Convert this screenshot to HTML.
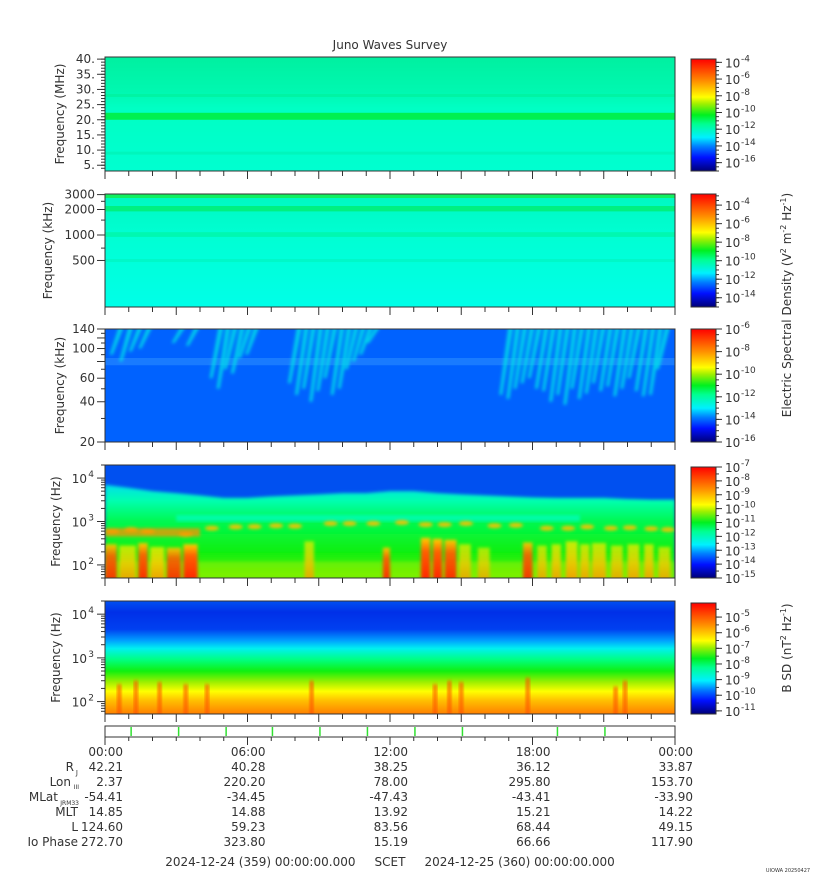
<!DOCTYPE html>
<html><head><meta charset="utf-8"><style>
html,body{margin:0;padding:0;background:#fff;}
svg{display:block;font-family:"DejaVu Sans","Liberation Sans",sans-serif;}
text{fill:#333;}
</style></head><body>
<svg id="chart" width="815" height="880" viewBox="0 0 815 880" xmlns="http://www.w3.org/2000/svg">
<defs>
<filter id="soft" x="-20%" y="-20%" width="140%" height="140%"><feGaussianBlur stdDeviation="1.6"/></filter>
<clipPath id="clip3"><rect x="105" y="329" width="570" height="113"/></clipPath>
<clipPath id="clip4"><rect x="105" y="465" width="570" height="113"/></clipPath>
<clipPath id="clip5"><rect x="105" y="601" width="570" height="113"/></clipPath>
<linearGradient id="cmap" x1="0" y1="1" x2="0" y2="0">
<stop offset="0" stop-color="#000078"/><stop offset="0.12" stop-color="#0010ff"/><stop offset="0.22" stop-color="#0080ff"/>
<stop offset="0.3" stop-color="#00f0ff"/><stop offset="0.42" stop-color="#00ff90"/><stop offset="0.5" stop-color="#00f020"/>
<stop offset="0.6" stop-color="#a0f000"/><stop offset="0.66" stop-color="#ffff00"/><stop offset="0.8" stop-color="#ff9000"/>
<stop offset="1" stop-color="#ff0000"/></linearGradient>
<linearGradient id="p1g" gradientUnits="userSpaceOnUse" x1="0" y1="57" x2="0" y2="171">
<stop offset="0" stop-color="#00f0a0"/><stop offset="0.3" stop-color="#00f8b0"/><stop offset="0.45" stop-color="#00ffc4"/><stop offset="1" stop-color="#00ffd0"/></linearGradient>
<linearGradient id="p2g" gradientUnits="userSpaceOnUse" x1="0" y1="194" x2="0" y2="307">
<stop offset="0" stop-color="#00f8c0"/><stop offset="0.4" stop-color="#00ffd4"/><stop offset="1" stop-color="#00ffe8"/></linearGradient>
<linearGradient id="p4g" gradientUnits="userSpaceOnUse" x1="0" y1="475" x2="0" y2="578">
<stop offset="0" stop-color="#00b0ff"/><stop offset="0.1" stop-color="#00e0e8"/><stop offset="0.25" stop-color="#00ffb0"/><stop offset="0.45" stop-color="#00f850"/><stop offset="0.75" stop-color="#10f010"/><stop offset="1" stop-color="#60f000"/></linearGradient>
<linearGradient id="p5g" gradientUnits="userSpaceOnUse" x1="0" y1="601" x2="0" y2="714">
<stop offset="0" stop-color="#0050f0"/><stop offset="0.1" stop-color="#0030e8"/><stop offset="0.25" stop-color="#0040f0"/><stop offset="0.35" stop-color="#00a0ff"/><stop offset="0.42" stop-color="#00f0f0"/><stop offset="0.52" stop-color="#00ff80"/><stop offset="0.62" stop-color="#10f010"/><stop offset="0.72" stop-color="#a0f000"/><stop offset="0.8" stop-color="#ffff00"/><stop offset="0.88" stop-color="#ffc000"/><stop offset="1" stop-color="#ff8000"/></linearGradient>
<linearGradient id="burst" x1="0" y1="0" x2="0" y2="1">
<stop offset="0" stop-color="#ffd000"/><stop offset="0.3" stop-color="#ff6000"/><stop offset="1" stop-color="#ff2000"/></linearGradient>
<linearGradient id="burstY" x1="0" y1="0" x2="0" y2="1">
<stop offset="0" stop-color="#e0f000"/><stop offset="0.4" stop-color="#ffd000"/><stop offset="1" stop-color="#ff9000"/></linearGradient>
</defs>
<text x="390" y="49" font-size="12" text-anchor="middle">Juno Waves Survey</text>
<g id="panels"></g>
<g id="bottom"></g>
<text transform="translate(791,305) rotate(-90)" font-size="12" text-anchor="middle">Electric Spectral Density (V<tspan font-size="8" dy="-5">2</tspan><tspan dy="5"> m</tspan><tspan font-size="8" dy="-5">-2</tspan><tspan dy="5"> Hz</tspan><tspan font-size="8" dy="-5">-1</tspan><tspan dy="5">)</tspan></text>
<text transform="translate(791,648) rotate(-90)" font-size="12" text-anchor="middle">B SD (nT<tspan font-size="8" dy="-5">2</tspan><tspan dy="5"> Hz</tspan><tspan font-size="8" dy="-5">-1</tspan><tspan dy="5">)</tspan></text>
<text x="788" y="872" font-size="5" text-anchor="middle">UIOWA 20250427</text>
</svg>
<script>
// ---- data ----
const timeTickHours = [0,6,12,18,24];
const timeTickLabels = ["00:00","06:00","12:00","18:00","00:00"];
const ephemRows = ["R_J","Lon_III","MLat_JRM33","MLT","L","Io Phase"];
const rjValues = ["42.21","40.28","38.25","36.12","33.87"];
const lonValues = ["2.37","220.20","78.00","295.80","153.70"];
const mlatValues = ["-54.41","-34.45","-47.43","-43.41","-33.90"];
const mltValues = ["14.85","14.88","13.92","15.21","14.22"];
const lValues = ["124.60","59.23","83.56","68.44","49.15"];
const ioValues = ["272.70","323.80","15.19","66.66","117.90"];
const markerHours = [1.1,3.1,5.1,7.05,9.05,11.05,13.05,15.05,19.05,21.05];
// panel 3 bursts (hour, lowest freq kHz)
const p3BurstT = [0.2,0.6,1.0,1.4,2.8,3.4,4.4,4.7,5.0,5.3,5.6,5.9,7.7,8.0,8.3,8.6,8.9,9.2,9.5,9.8,10.1,10.4,10.7,11.0,16.6,16.9,17.2,17.5,17.8,18.1,18.4,18.7,19.0,19.3,19.6,19.9,20.2,20.5,20.8,21.1,21.4,21.7,22.0,22.3,22.6,22.9,23.2];
const p3BurstLow = [90,80,95,100,110,105,60,50,70,65,85,90,55,45,50,40,48,60,45,50,70,80,90,110,45,42,50,55,60,50,48,40,45,38,50,42,46,55,48,52,44,50,60,48,44,45,70];
// panel 4 blue/green boundary (Hz) per hour 0..24
const p4Edge = [7000,6000,5000,4500,4000,3500,3500,3800,4000,4200,4500,4500,5000,5000,4500,4200,4000,3800,3600,3500,3500,3500,3300,3200,3200];
// panel 4 low-frequency bursts (start hour, end hour, top Hz, strength 0..1)
const p4BurstStart = [0.0,0.6,1.4,1.9,2.6,3.3,8.4,11.7,13.3,13.8,14.3,14.9,15.7,17.6,18.2,18.8,19.4,20.0,20.5,21.3,22.0,22.7,23.3];
const p4BurstEnd =   [0.5,1.3,1.8,2.5,3.2,3.9,8.8,12.0,13.7,14.2,14.8,15.4,16.2,18.0,18.6,19.2,19.9,20.4,21.1,21.8,22.5,23.1,23.8];
const p4BurstTop =   [300,280,320,260,250,300,350,250,420,400,380,300,250,330,280,300,350,300,320,280,300,300,260];
const p4BurstStr =   [0.8,0.6,0.9,0.7,0.8,1.0,0.5,0.9,1.0,1.0,0.9,0.5,0.4,0.8,0.5,0.6,0.7,0.6,0.6,0.5,0.6,0.6,0.5];
// panel 4 narrowband emission blobs (hour, Hz)
const p4BandT = [0.3,1.1,1.8,3.4,4.5,5.5,6.3,7.2,8.0,9.5,10.3,11.3,12.5,13.5,14.3,15.2,16.4,17.3,18.6,19.5,20.3,21.3,22.1,23.0,23.7];
const p4BandF = [600,650,600,500,700,750,760,800,780,900,900,900,950,850,850,900,800,820,700,700,750,700,720,680,650];
// panel 5 bursts (hour, top Hz)
const p5BurstT = [0.6,1.3,2.3,3.4,4.3,8.7,13.9,14.5,15.0,17.8,21.5,21.9];
const p5BurstTop = [250,300,280,250,250,300,250,300,280,350,220,300];

// ---- scales ----
const X0=105, X1=675;
const xT = h => X0 + (X1-X0)*h/24;
const logY = (top,bot,fTop,fBot) => f => top + (bot-top)*(Math.log10(fTop)-Math.log10(f))/(Math.log10(fTop)-Math.log10(fBot));
const panels = [
 {top:57,bot:171},{top:194,bot:307},{top:329,bot:442},{top:465,bot:578},{top:601,bot:714}
];
const y1 = f => 171 - (f-3.1)*(114/(40.7-3.1));
const y2 = logY(194,307,3050,141);
const y3 = logY(329,442,140,20);
const y4 = logY(465,578,20000,50);
const y5 = logY(601,714,20000,52);

const NS="http://www.w3.org/2000/svg";
const G=document.getElementById('panels');
function el(tag,attrs,parent){const e=document.createElementNS(NS,tag);for(const k in attrs)e.setAttribute(k,attrs[k]);(parent||G).appendChild(e);return e;}
function txt(x,y,s,size,anchor,parent){const t=el('text',{x:x,y:y,'font-size':size||12,'text-anchor':anchor||'end'},parent);t.textContent=s;return t;}

const pgrp=[];
panels.forEach((p,i)=>{
  const g=el('g',{});
  
  
  pgrp.push(g);
});
el('rect',{x:X0,y:57,width:570,height:114,fill:'url(#p1g)'},pgrp[0]);
el('rect',{x:X0,y:y1(22.3),width:570,height:y1(20)-y1(22.3),fill:'#00f050'},pgrp[0]);
el('rect',{x:X0,y:y1(28.5),width:570,height:3,fill:'#00f098',opacity:0.6},pgrp[0]);
el('rect',{x:X0,y:y1(9.5),width:570,height:3,fill:'#00f0b0',opacity:0.6},pgrp[0]);
el('rect',{x:X0,y:194,width:570,height:113,fill:'url(#p2g)'},pgrp[1]);
el('rect',{x:X0,y:194,width:570,height:4,fill:'#10f060'},pgrp[1]);
el('rect',{x:X0,y:y2(2200),width:570,height:y2(1900)-y2(2200),fill:'#00f080'},pgrp[1]);
el('rect',{x:X0,y:y2(1080),width:570,height:y2(950)-y2(1080),fill:'#00f8b0'},pgrp[1]);
el('rect',{x:X0,y:y2(520),width:570,height:3,fill:'#00f8c8'},pgrp[1]);
// panel 3
el('rect',{x:X0,y:329,width:570,height:113,fill:'#0062ff'},pgrp[2]);
el('rect',{x:X0,y:y3(85),width:570,height:y3(75)-y3(85),fill:'#2a8cff',opacity:0.6},pgrp[2]);
const g3=el('g',{'clip-path':'url(#clip3)'},pgrp[2]);
const g3b=el('g',{filter:'url(#soft)'},g3);
p3BurstT.forEach((h,i)=>{
  const x=xT(h), yl=y3(p3BurstLow[i]);
  const p=el('polygon',{points:`${x+9},327 ${x+14},327 ${x+3},${yl} ${x},${yl}`,fill:'#00e8e8',opacity:0.8},g3b);
  
  
});
// panel 4
el('rect',{x:X0,y:465,width:570,height:113,fill:'#0050f0'},pgrp[3]);
const g4=el('g',{'clip-path':'url(#clip4)'},pgrp[3]);
let d=`M${xT(0)},580 `;
p4Edge.forEach((f,i)=>{d+=`L${xT(i)},${y4(f)} `;});
d+=`L${xT(24)},580 Z`;
el('path',{d:d,fill:'url(#p4g)',filter:'url(#soft)'},g4);
el('rect',{x:xT(3),y:y4(1400),width:xT(20)-xT(3),height:y4(1000)-y4(1400),fill:'#00ffff',opacity:0.45,filter:'url(#soft)'},g4);
el('rect',{x:X0,y:y4(120),width:570,height:578-y4(120),fill:'#b0f000',opacity:0.4,filter:'url(#soft)'},g4);
const g4b=el('g',{filter:'url(#soft)'},g4);
p4BandT.forEach((h,i)=>{
  const b=el('ellipse',{cx:xT(h),cy:y4(p4BandF[i]),rx:7,ry:2.5,fill:'#ffc000',opacity:0.9},g4b);
  
  
});
el('rect',{x:X0,y:y4(700),width:xT(4)-X0,height:y4(450)-y4(700),fill:'#ff9000',opacity:0.75},g4b);
p4BurstStart.forEach((h,i)=>{
  const x=xT(h), w=xT(p4BurstEnd[i])-x, yt=y4(p4BurstTop[i]);
  const r=el('rect',{x:x,y:yt,width:w,height:582-yt,fill:p4BurstStr[i]>0.75?'url(#burst)':'url(#burstY)',opacity:0.5+0.5*p4BurstStr[i]},g4b);
  
  
});
// panel 5
el('rect',{x:X0,y:601,width:570,height:113,fill:'url(#p5g)'},pgrp[4]);
const g5=el('g',{'clip-path':'url(#clip5)'},pgrp[4]);
p5BurstT.forEach((h,i)=>{
  const x=xT(h), yt=y5(p5BurstTop[i]);
  const r=el('rect',{x:x-2,y:yt,width:4,height:716-yt,fill:'#ff5000',opacity:0.75,filter:'url(#soft)'},g5);
  
  
});

panels.forEach((p,i)=>{
  el('rect',{x:X0,y:p.top,width:570,height:p.bot-p.top,fill:'none',stroke:'#333','stroke-width':1},pgrp[i]);
  for(let h=0;h<=24;h++){
    const len=h%3===0?8:5;
    el('line',{x1:xT(h),y1:p.bot,x2:xT(h),y2:p.bot+len,stroke:'#333'},pgrp[i]);
  }
});
function yaxis(g,ticks,labels,fy,minor){
  minor.forEach(f=>el('line',{x1:X0-4,y1:fy(f),x2:X0,y2:fy(f),stroke:'#333'},g));
  ticks.forEach((f,i)=>{el('line',{x1:X0-8,y1:fy(f),x2:X0,y2:fy(f),stroke:'#333'},g);
    if(labels[i]) txt(X0-10,fy(f)+4,labels[i],12,'end',g);});
}
const p1t=[5,10,15,20,25,30,35,40], p1m=[]; for(let f=4;f<=40;f++)p1m.push(f);
yaxis(pgrp[0],p1t,p1t.map(v=>v+'.'),y1,p1m);
yaxis(pgrp[1],[500,1000,2000,3000],['500','1000','2000','3000'],y2,[700,1500,2500]);
yaxis(pgrp[2],[20,40,60,80,100,120,140],['20','40','60','','100','','140'],y3,[30,50,70,90,110,130]);
function decadeAxis(g,fy,decs,fmin,fmax){
  const mn=[];for(let e=1;e<=4;e++)for(let k=2;k<=9;k++){const f=k*Math.pow(10,e);if(f>=fmin&&f<=fmax)mn.push(f);}
  mn.forEach(f=>el('line',{x1:X0-4,y1:fy(f),x2:X0,y2:fy(f),stroke:'#333'},g));
  decs.forEach(e=>{const y=fy(Math.pow(10,e));el('line',{x1:X0-8,y1:y,x2:X0,y2:y,stroke:'#333'},g);
    txt(X0-18,y+5,'10',12,'end',g);txt(X0-11,y-1,String(e),9,'end',g);});
}
decadeAxis(pgrp[3],y4,[2,3,4],50,20000);
decadeAxis(pgrp[4],y5,[2,3,4],52,20000);
const ylabels=['Frequency (MHz)','Frequency (kHz)','Frequency (kHz)','Frequency (Hz)','Frequency (Hz)'];
panels.forEach((p,i)=>{const t=el('text',{transform:`translate(${i==1?52:(i>=3?60:64)},${(p.top+p.bot)/2}) rotate(-90)`,'font-size':12,'text-anchor':'middle'},pgrp[i]);t.textContent=ylabels[i];
  
  });

const cbars=[
 {top:59,bot:171,exps:[-4,-6,-8,-10,-12,-14,-16],emin:-17,emax:-3.6},
 {top:194,bot:307,exps:[-4,-6,-8,-10,-12,-14],emin:-15,emax:-2.8},
 {top:329,bot:442,exps:[-6,-8,-10,-12,-14,-16],emin:-16,emax:-6},
 {top:467,bot:578,exps:[-7,-8,-9,-10,-11,-12,-13,-14,-15],emin:-15,emax:-7},
 {top:603,bot:714,exps:[-5,-6,-7,-8,-9,-10,-11],emin:-11.2,emax:-4.1}
];
cbars.forEach((c,i)=>{
  const g=el('g',{});
  
  
  el('rect',{x:691,y:c.top,width:25,height:c.bot-c.top,fill:'url(#cmap)',stroke:'#333'},g);
  const cy=e=>c.bot-(c.bot-c.top)*(e-c.emin)/(c.emax-c.emin);
  for(let e=Math.ceil(c.emin*2)/2;e<=c.emax;e+=0.5){el('line',{x1:716,y1:cy(e),x2:719,y2:cy(e),stroke:'#333'},g);}
  c.exps.forEach(e=>{const y=cy(e);el('line',{x1:716,y1:y,x2:722,y2:y,stroke:'#333'},g);
    txt(725,y+5,'10',12,'start',g);txt(741,y-1,String(e),9,'start',g);});
});

const B=document.getElementById('bottom');
el('rect',{x:X0,y:726,width:570,height:11,fill:'none',stroke:'#333'},B);
markerHours.forEach(h=>{const l=el('line',{x1:xT(h),y1:727,x2:xT(h),y2:736,stroke:'#30e030','stroke-width':1.5},B);
  
  });
for(let h=0;h<=24;h++){el('line',{x1:xT(h),y1:737,x2:xT(h),y2:h%6===0?745:741,stroke:'#333'},B);}
const rowY=[756,771,786,801,816,831,846];
timeTickHours.forEach((h,i)=>{const t=txt(xT(h)+18,rowY[0],timeTickLabels[i],12,'end',B);
  
  });
const rows=[rjValues,lonValues,mlatValues,mltValues,lValues,ioValues];
rows.forEach((vals,r)=>{vals.forEach((v,i)=>txt(xT(timeTickHours[i])+18,rowY[r+1],v,12,'end',B));});
txt(74,rowY[1],'R',12,'end',B); txt(78,rowY[1]+4,'J',7,'end',B);
txt(71,rowY[2],'Lon',12,'end',B); txt(79,rowY[2]+3,'III',6,'end',B);
txt(58,rowY[3],'MLat',12,'end',B); txt(79,rowY[3]+4,'JRM33',6,'end',B);
txt(78,rowY[4],'MLT',12,'end',B);
txt(78,rowY[5],'L',12,'end',B);
txt(78,rowY[6],'Io Phase',12,'end',B);
const dt=txt(390,866,'2024-12-24 (359) 00:00:00.000     SCET     2024-12-25 (360) 00:00:00.000',12,'middle',B);
dt.setAttribute('xml:space','preserve');dt.style.whiteSpace='pre';


</script>
</body></html>
